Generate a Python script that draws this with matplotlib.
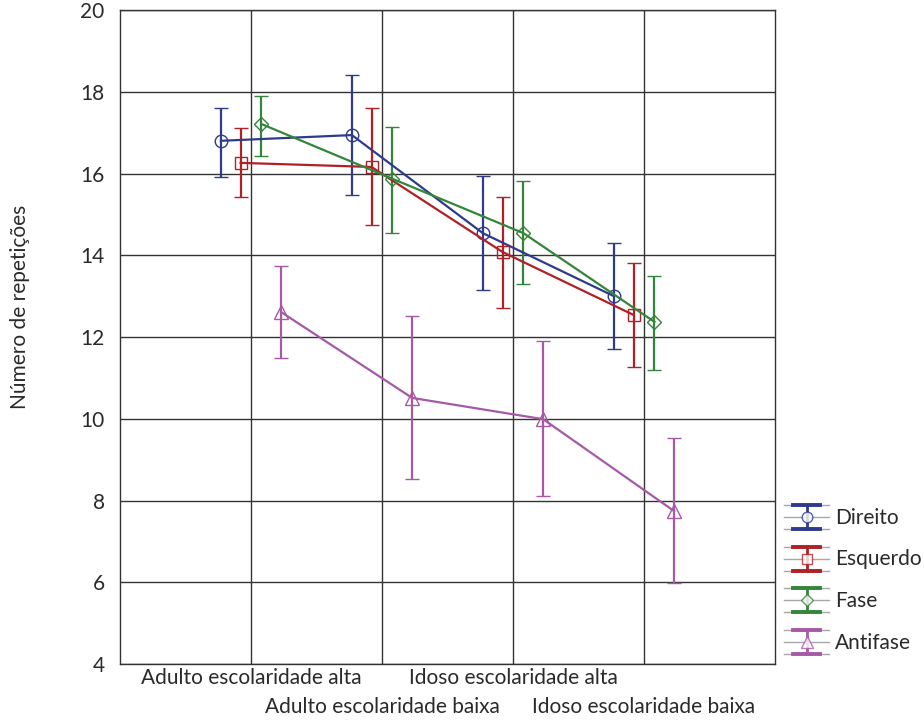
import matplotlib
matplotlib.use('Agg')
import matplotlib.pyplot as plt
from matplotlib import font_manager
from matplotlib.legend_handler import HandlerBase
from matplotlib.lines import Line2D

categories = ['Adulto escolaridade alta', 'Adulto escolaridade baixa',
              'Idoso escolaridade alta', 'Idoso escolaridade baixa']
series = ['Direito', 'Esquerdo', 'Fase', 'Antifase']

# mean, lower and upper end of the error bar for each group
means = {
    'Direito':  [16.80, 16.94, 14.54, 13.00],
    'Esquerdo': [16.26, 16.16, 14.08, 12.54],
    'Fase':     [17.21, 15.87, 14.54, 12.37],
    'Antifase': [12.61, 10.51, 9.99, 7.74],
}
lower = {
    'Direito':  [15.91, 15.47, 13.15, 11.70],
    'Esquerdo': [15.43, 14.74, 12.71, 11.27],
    'Fase':     [16.43, 14.54, 13.30, 11.19],
    'Antifase': [11.49, 8.53, 8.11, 5.98],
}
upper = {
    'Direito':  [17.60, 18.41, 15.94, 14.30],
    'Esquerdo': [17.11, 17.60, 15.43, 13.81],
    'Fase':     [17.90, 17.14, 15.82, 13.49],
    'Antifase': [13.74, 12.51, 11.90, 9.53],
}

colors = {'Direito': '#2e3a8c', 'Esquerdo': '#b02025', 'Fase': '#33853a', 'Antifase': '#a65aa6'}
markers = {'Direito': 'o', 'Esquerdo': 's', 'Fase': 'D', 'Antifase': '^'}
msizes = {'Direito': 9, 'Esquerdo': 9, 'Fase': 7, 'Antifase': 10}
offsets = {'Direito': -0.23, 'Esquerdo': -0.08, 'Fase': 0.08, 'Antifase': 0.23}

names = {f.name for f in font_manager.fontManager.ttflist}
plt.rcParams['font.family'] = ['Lato', 'DejaVu Sans'] if 'Lato' in names else ['DejaVu Sans']
TXT = '#2a2a2a'
FS = 15


class ErrHandler(HandlerBase):
    # gray guide lines + coloured error bar, like the original legend
    def __init__(self, color, marker, ms):
        super().__init__()
        self.color, self.marker, self.ms = color, marker, ms

    def create_artists(self, legend, orig_handle, xd, yd, w, h, fontsize, trans):
        mid = yd + h / 2 - 5.5
        top, bot = mid + 8.6, mid - 8.6
        arts = []
        for yy in (top, mid, bot):
            arts.append(Line2D([xd, xd + w], [yy, yy], color='#a8a8a8', lw=1.0, transform=trans))
        cx = xd + w / 2
        arts.append(Line2D([cx, cx], [bot, top], color=self.color, lw=2.0, transform=trans))
        for yy in (top, bot):
            arts.append(Line2D([cx - 9.5, cx + 9.5], [yy, yy], color=self.color, lw=2.8, transform=trans))
        arts.append(Line2D([cx], [mid], marker=self.marker, ms=self.ms * 0.85, mfc='white',
                           mec=self.color, mew=1.0, alpha=0.8, transform=trans))
        return arts


fig = plt.figure(figsize=(9.24, 7.2), dpi=100)
ax = fig.add_axes([120 / 924, 1 - 664 / 720, 655 / 924, 654 / 720])

xpos = [1, 2, 3, 4]
handles = []
for s in series:
    x = [p + offsets[s] for p in xpos]
    y = means[s]
    yerr = [[m - lo for m, lo in zip(y, lower[s])], [hi - m for m, hi in zip(y, upper[s])]]
    c = colors[s]
    h = ax.errorbar(x, y, yerr=yerr, color=c, lw=1.6, elinewidth=1.6, capsize=5, capthick=1.6,
                    marker=markers[s], ms=msizes[s], mfc='none', mec=c, mew=1.0, label=s, zorder=3)
    handles.append(h)

ax.set_xlim(0, 5)
ax.set_ylim(4, 20)
ax.set_yticks(range(4, 21, 2))
# staggered category labels: odd ones on the first row, even ones below
ax.set_xticks(xpos[0::2])
ax.set_xticklabels(categories[0::2])
ax.set_xticks(xpos[1::2], minor=True)
ax.set_xticklabels(categories[1::2], minor=True)
ax.grid(True, which='both', color='#333333', lw=1.0)
ax.set_axisbelow(True)
for sp in ax.spines.values():
    sp.set_color('#333333')
    sp.set_linewidth(1.0)
ax.tick_params(which='both', length=0, labelsize=FS, labelcolor=TXT)
ax.tick_params(axis='x', which='major', pad=3)
ax.tick_params(axis='x', which='minor', pad=24)
ax.tick_params(axis='y', pad=11)
ax.set_ylabel('Número de repetições', fontsize=FS, color=TXT)
ax.yaxis.set_label_coords(-0.138, 0.546)

hmap = {h: ErrHandler(colors[s], markers[s], msizes[s]) for h, s in zip(handles, series)}
fig.legend(handles=handles, labels=series, handler_map=hmap, loc='upper left',
           bbox_to_anchor=(784 / 924, 1 - 506 / 720), frameon=False, fontsize=FS,
           labelcolor=TXT, handlelength=2.16, handleheight=1.2, labelspacing=0.96,
           handletextpad=0.29, borderaxespad=0, borderpad=0)

fig.savefig('out.png', dpi=100)
